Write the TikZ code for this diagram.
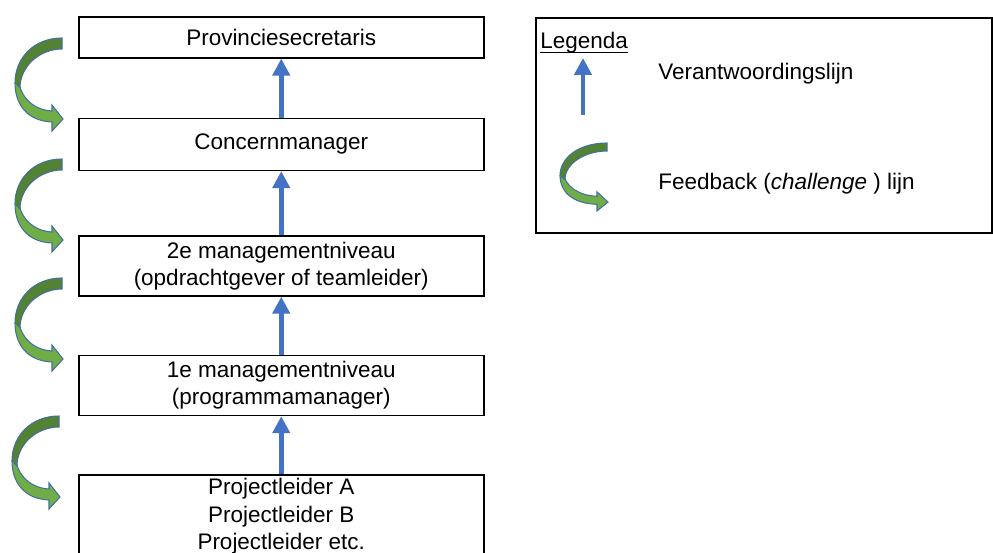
\documentclass[tikz,border=0pt]{standalone}
\usepackage{fontspec}
\setmainfont{Liberation Sans}
\usetikzlibrary{positioning,arrows.meta}
\definecolor{lijnblauw}{HTML}{4472C4}
\definecolor{groenlicht}{HTML}{70AD47}
\definecolor{groendonker}{HTML}{548235}
\definecolor{randblauw}{HTML}{41719C}
\tikzset{
  levelbox/.style={draw, line width=0.9pt, minimum width=8.1cm, align=center, inner sep=0pt},
  verantwoording/.style={draw=lijnblauw, line width=2.8pt, -{Triangle[width=0.34cm,length=0.34cm]}},
  feedback/.pic={
    % lower band with the head
    \filldraw[fill=groenlicht, draw=randblauw, line width=0.6pt]
      (-44,40) .. controls (-42,60) and (-28,72) .. (-10,73) -- (-10,67) -- (1,81)
      -- (-10,93) -- (-10,84) .. controls (-35,83) and (-47,66) .. (-47,45) -- cycle;
    % upper band from the tail
    \filldraw[fill=groendonker, draw=randblauw, line width=0.6pt]
      (0,0) .. controls (-28,0) and (-47,20) .. (-47,45) -- (-42,50)
      .. controls (-42,28) and (-22,11) .. (0,11) -- cycle;
  }
}
\begin{document}
\begin{tikzpicture}[x=0.02cm, y=-0.02cm, font=\fontsize{12.8}{15.6}\selectfont]
  \useasboundingbox (0,0) rectangle (993,553);
  \clip (0,0) rectangle (993,553);

  \node[levelbox, minimum height=0.82cm, anchor=north west] (secretaris) at (78,16) {Provinciesecretaris};
  \node[levelbox, minimum height=1.04cm, below=1.18cm of secretaris] (concern) {Concernmanager};
  \node[levelbox, minimum height=1.2cm, below=1.28cm of concern] (niveau2) {2e managementniveau\\(opdrachtgever of teamleider)};
  \node[levelbox, minimum height=1.2cm, below=1.16cm of niveau2] (niveau1) {1e managementniveau\\(programmamanager)};
  \node[levelbox, minimum height=1.66cm, below=1.16cm of niveau1] (projecten) {Projectleider A\\Projectleider B\\Projectleider etc.};

  \draw[verantwoording] (concern.north) -- (secretaris.south);
  \draw[verantwoording] (niveau2.north) -- (concern.south);
  \draw[verantwoording] (niveau1.north) -- (niveau2.south);
  \draw[verantwoording] (projecten.north) -- (niveau1.south);

  \pic (fb1) at (62,38) {feedback};
  \pic (fb2) at (62,159) {feedback};
  \pic (fb3) at (62,278) {feedback};
  \pic (fb4) at (59,416) {feedback};

  \node[draw, line width=0.9pt, minimum width=9.12cm, minimum height=4.3cm, inner sep=0pt, anchor=north west] (legenda) at (535,17) {};
  \node[anchor=base west, inner sep=0pt] (legendatitel) at (540,49) {Legenda};
  \draw[line width=0.6pt] ([yshift=-0.07cm]legendatitel.base west) -- ([yshift=-0.07cm]legendatitel.base east);
  \coordinate (legstart) at (583,115);
  \coordinate (legeind) at (583,58);
  \draw[verantwoording] (legstart) -- (legeind);
  \node[anchor=base west, inner sep=0pt] (verantwoordingtekst) at (658,80) {Verantwoordingslijn};
  \pic[yscale=0.73] (fblegenda) at (607,143) {feedback};
  \node[anchor=base west, inner sep=0pt] (feedbacktekst) at (658,190) {Feedback (\textit{challenge} ) lijn};
\end{tikzpicture}
\end{document}
